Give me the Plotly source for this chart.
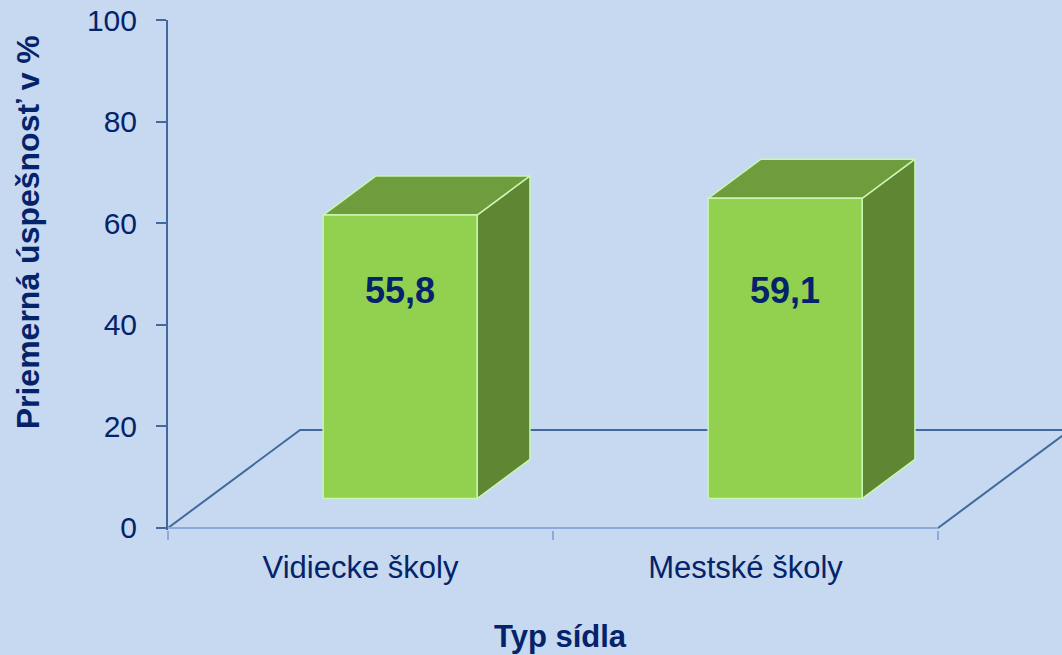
import plotly.graph_objects as go

# ---- data ----
categories = ["Vidiecke školy", "Mestské školy"]
values = [55.8, 59.1]
y_ticks = [0, 20, 40, 60, 80, 100]
x_title = "Typ sídla"
y_title = "Priemerná úspešnosť v %"

# ---- style / projection constants ----
BG = "#C6D9F0"
FRONT = "#92D050"
TOP = "#6F9C3C"
SIDE = "#5F8632"
EDGE = "#C8F7B4"
NAVY = "#04236A"
AXIS_DARK = "#41699E"
AXIS_LIGHT = "#8EAADB"
FONT = "Liberation Sans, Arial, sans-serif"
DEPTH_X = 0.343      # floor depth, in category units
DEPTH_Y = 19.3       # floor depth, in value units
F0, F1 = 0.3, 0.7    # bar front/back as fraction of floor depth
BAR_W = 0.40         # bar width as fraction of category
LABEL_Y = 46.0       # height of value labels

n = len(categories)
x_left = -0.5
x_right = n - 0.5

fig = go.Figure()

def line(xs, ys, color, width=2):
    fig.add_trace(go.Scatter(x=xs, y=ys, mode="lines", line=dict(color=color, width=width),
                             hoverinfo="skip", showlegend=False))

def poly(xs, ys, fill):
    fig.add_trace(go.Scatter(x=xs + [xs[0]], y=ys + [ys[0]], mode="lines", fill="toself",
                             fillcolor=fill, line=dict(color=EDGE, width=1.5),
                             hoverinfo="skip", showlegend=False))

# floor
line([x_left, x_left + DEPTH_X, x_right + DEPTH_X], [0, DEPTH_Y, DEPTH_Y], AXIS_DARK)
line([x_right, x_right + DEPTH_X], [0, DEPTH_Y], AXIS_DARK)
line([x_left, x_right], [0, 0], AXIS_LIGHT)

# bars
label_x = []
for i, v in enumerate(values):
    fx0 = i - BAR_W / 2 + F0 * DEPTH_X
    fx1 = i + BAR_W / 2 + F0 * DEPTH_X
    fy0 = F0 * DEPTH_Y
    fy1 = fy0 + v
    ddx = (F1 - F0) * DEPTH_X
    ddy = (F1 - F0) * DEPTH_Y
    # side
    poly([fx1, fx1 + ddx, fx1 + ddx, fx1], [fy0, fy0 + ddy, fy1 + ddy, fy1], SIDE)
    # top
    poly([fx0, fx1, fx1 + ddx, fx0 + ddx], [fy1, fy1, fy1 + ddy, fy1 + ddy], TOP)
    # front
    poly([fx0, fx1, fx1, fx0], [fy0, fy0, fy1, fy1], FRONT)
    label_x.append((fx0 + fx1) / 2)

fig.add_trace(go.Scatter(
    x=label_x, y=[LABEL_Y] * n, mode="text",
    text=[f"{v:.1f}".replace(".", ",") for v in values],
    textfont=dict(family=FONT, size=36, color=NAVY),
    texttemplate="<b>%{text}</b>", hoverinfo="skip", showlegend=False))

fig.update_layout(
    width=1062, height=655,
    paper_bgcolor=BG, plot_bgcolor=BG,
    margin=dict(l=168, r=0, t=20, b=125),
    font=dict(family=FONT, color=NAVY),
    showlegend=False,
    xaxis=dict(
        range=[x_left, x_right + 124 / 385], showgrid=False, zeroline=False, showline=False,
        tickmode="array", tickvals=list(range(n)), ticktext=categories, ticks="",
        tickfont=dict(size=31, color=NAVY, family=FONT), ticklabelstandoff=16,
        minor=dict(tickmode="array", tickvals=[x_left + k for k in range(n + 1)],
                   ticks="outside", ticklen=9, tickwidth=2, tickcolor=AXIS_LIGHT, showgrid=False),
        fixedrange=True,
    ),
    yaxis=dict(
        range=[-0.4, 100], showgrid=False, zeroline=False, showline=True,
        linecolor=AXIS_DARK, linewidth=2,
        tickmode="array", tickvals=y_ticks, ticks="outside", ticklen=10, tickwidth=2,
        tickcolor=AXIS_DARK, tickfont=dict(size=30, color=NAVY, family=FONT),
        ticklabelstandoff=13, fixedrange=True,
    ),
    annotations=[
        dict(text=f"<b>{y_title}</b>", xref="paper", yref="y", x=0, y=58.2,
             xshift=-140, xanchor="center", yanchor="middle", textangle=-90,
             showarrow=False, font=dict(size=32, color=NAVY, family=FONT)),
        dict(text=f"<b>{x_title}</b>", xref="x", yref="paper", x=0.52, y=0,
             yshift=-106, xanchor="center", yanchor="middle",
             showarrow=False, font=dict(size=31, color=NAVY, family=FONT)),
    ],
)

fig.write_html("out.html", config={"displayModeBar": False},
               post_script="document.body.style.margin='0';document.body.style.overflow='hidden';")
